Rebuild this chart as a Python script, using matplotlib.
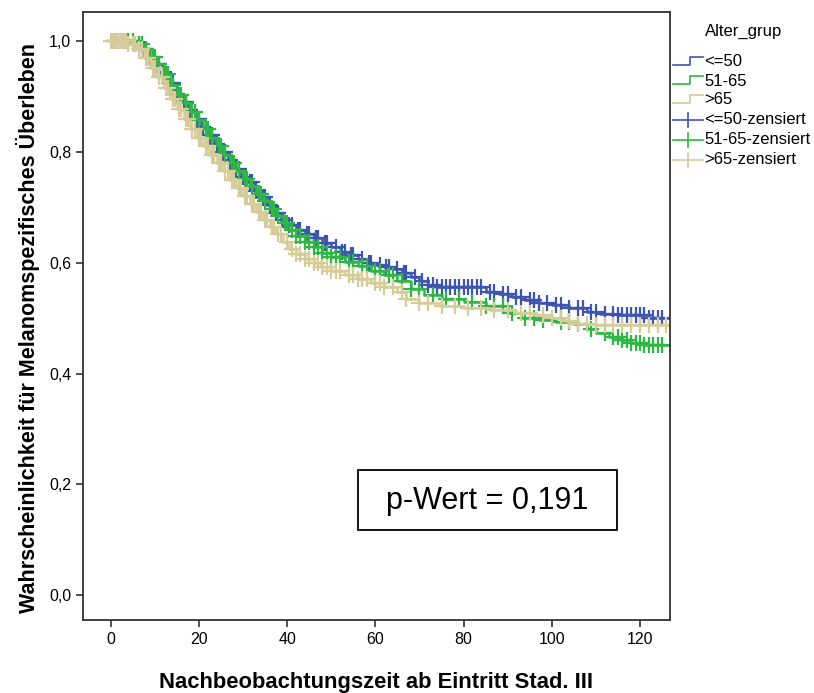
import numpy as np
import matplotlib
matplotlib.use("Agg")
import matplotlib.pyplot as plt
from matplotlib.lines import Line2D
from matplotlib.patches import Rectangle
from matplotlib.transforms import Affine2D

# Kaplan-Meier Stufen (Zeit, Überlebenswahrscheinlichkeit)
t_le50 = [0, 5, 7, 8.5, 10, 11.5, 13, 14.5, 16, 17.5, 19, 20.5, 22, 23.5, 25, 26.5, 28, 29.5, 31, 32.5,
          34, 35.5, 37, 38.5, 40, 42, 44, 46, 48, 50, 52, 54, 56, 58, 60, 62, 64, 66, 68, 70, 72, 74,
          85, 88, 91, 94, 97, 100, 104, 108, 111, 115, 122]
s_le50 = [1.0, 0.995, 0.985, 0.972, 0.958, 0.945, 0.925, 0.905, 0.89, 0.875, 0.86, 0.845, 0.83, 0.815,
          0.80, 0.785, 0.77, 0.755, 0.745, 0.73, 0.718, 0.705, 0.69, 0.678, 0.668, 0.66, 0.652, 0.645,
          0.636, 0.628, 0.62, 0.614, 0.607, 0.60, 0.596, 0.592, 0.588, 0.582, 0.575, 0.567, 0.56, 0.556,
          0.548, 0.543, 0.538, 0.533, 0.528, 0.524, 0.519, 0.512, 0.508, 0.505, 0.50]

t_5165 = [0, 6, 7.5, 9, 10.5, 12, 13.5, 15, 16.5, 18, 19.5, 21, 22.5, 24, 25.5, 27, 28.5, 30, 31.5, 33,
          34.5, 36, 37.5, 39, 40.5, 42, 44, 46, 48, 50, 53, 56, 59, 62, 65, 68, 71, 75, 80, 85, 90, 93,
          97, 101, 105, 108, 110, 113, 116, 118, 121]
s_5165 = [1.0, 0.995, 0.985, 0.972, 0.958, 0.94, 0.92, 0.903, 0.888, 0.872, 0.857, 0.842, 0.826, 0.81,
          0.795, 0.78, 0.766, 0.752, 0.738, 0.725, 0.712, 0.698, 0.685, 0.672, 0.66, 0.648, 0.638, 0.628,
          0.618, 0.61, 0.602, 0.594, 0.586, 0.578, 0.568, 0.553, 0.542, 0.535, 0.53, 0.522, 0.51, 0.50,
          0.496, 0.493, 0.489, 0.48, 0.473, 0.466, 0.46, 0.455, 0.452]

t_gt65 = [0, 4, 6, 7.5, 9, 10.5, 12, 13.5, 15, 16.5, 18, 19.5, 21, 22.5, 24, 25.5, 27, 28.5, 30, 31.5,
          33, 34.5, 36, 37.5, 39, 40.5, 42, 44, 46, 48, 50, 53, 56, 59, 62, 65, 67, 70, 75, 80, 86, 92,
          96, 100, 103, 106, 110]
s_gt65 = [1.0, 0.995, 0.985, 0.97, 0.952, 0.935, 0.915, 0.895, 0.878, 0.86, 0.842, 0.825, 0.81, 0.795,
          0.78, 0.765, 0.75, 0.735, 0.72, 0.706, 0.692, 0.678, 0.665, 0.652, 0.638, 0.625, 0.615, 0.607,
          0.60, 0.593, 0.585, 0.578, 0.57, 0.563, 0.556, 0.548, 0.535, 0.527, 0.522, 0.518, 0.514, 0.51,
          0.505, 0.50, 0.495, 0.49, 0.487]

# zensierte Fälle (Zeitpunkte)
c_le50 = [1, 2, 3, 4, 5.5, 6.5, 7.5, 8, 9, 10.5, 11, 12, 13.5, 14, 15, 16.5, 17, 18, 19.5, 20, 21, 22.5,
          23, 24, 25.5, 26, 27, 28.5, 29, 30, 31.5, 32, 33, 34.5, 35, 36, 37.5, 38, 39, 40.5, 41, 42.5,
          43, 44.5, 45, 46.5, 47, 48.5, 49, 51, 52.5, 53, 54.5, 55, 57, 58.5, 59, 61, 62.5, 63, 65, 66.5,
          67, 69, 70.5, 72, 73, 74, 75, 76, 77, 78, 79, 80, 81, 82, 83, 84, 86, 87, 89, 90, 92, 93, 95, 96,
          97, 99, 101, 102, 104, 106, 107, 109, 110, 112, 114, 115, 116, 117, 118, 119, 120, 121, 122,
          123, 124, 125]
c_5165 = [1, 2, 3, 4, 5, 6.5, 7, 8, 9.5, 10, 11, 12.5, 13, 14, 15.5, 16, 17, 18.5, 19, 20, 21.5, 22, 23,
          24.5, 25, 26, 27.5, 28, 29, 30.5, 31, 32, 33.5, 34, 35, 36.5, 37, 38, 39.5, 40, 41, 42, 43, 44,
          45, 46, 47, 48, 49, 50, 51, 52, 54, 55, 57, 58, 60, 61, 63, 64, 66, 68, 70, 73, 76, 79, 82, 85,
          87, 89, 91, 94, 96, 98, 102, 104, 106, 109, 112, 114, 115, 116, 117, 118, 119, 120, 121, 122,
          123, 124, 125]
c_gt65 = [0, 0.5, 1, 1.5, 2, 2.5, 3, 3.5, 4, 5, 5.5, 6.5, 7, 8, 8.5, 9.5, 10, 11, 11.5, 12.5, 13, 14,
          14.5, 15.5, 16, 17, 17.5, 18.5, 19, 20, 20.5, 21.5, 22, 23, 23.5, 24.5, 25, 26, 26.5, 27.5, 28,
          29, 29.5, 30.5, 31, 32, 32.5, 33.5, 34, 35, 35.5, 36.5, 37, 38, 38.5, 40, 41, 42, 43, 44, 45, 46,
          47, 48, 49, 50, 51, 52, 54, 55, 56, 57, 58, 60, 61, 62, 64, 66, 67, 70, 72, 75, 78, 81, 84, 87,
          90, 93, 95, 98, 100, 102, 104, 106, 108, 110, 112, 114, 116, 118, 120, 122, 124, 126]

t_end = 126.5
groups = ["<=50", "51-65", ">65"]
colors = ["#3E55B0", "#2DB845", "#D5CC98"]

plt.rcParams["font.family"] = ["Liberation Sans Narrow", "Liberation Sans", "DejaVu Sans"]

fig = plt.figure(figsize=(8.14, 6.93), dpi=100)
ax = fig.add_axes([0.102, 0.105, 0.721, 0.878])

data = [(t_le50, s_le50, c_le50), (t_5165, s_5165, c_5165), (t_gt65, s_gt65, c_gt65)]
for (t, s, c), col in zip(data, colors):
    tt = np.array(t + [t_end])
    ss = np.array(s + [s[-1]])
    ax.step(tt, ss, where="post", color=col, lw=1.8)
    idx = np.searchsorted(np.array(t), np.array(c), side="right") - 1
    ax.plot(c, np.array(s)[idx], ls="none", marker="+", ms=11, mew=1.6, color=col)

ax.set_xlim(-6.3, 126.8)
ax.set_ylim(-0.045, 1.053)
ax.set_xticks([0, 20, 40, 60, 80, 100, 120])
ax.set_yticks([0.0, 0.2, 0.4, 0.6, 0.8, 1.0])
ax.set_yticklabels(["0,0", "0,2", "0,4", "0,6", "0,8", "1,0"])
ax.tick_params(labelsize=11.5, length=5, width=1.2, color="#333333")
for sp in ax.spines.values():
    sp.set_color("#333333")
    sp.set_linewidth(1.3)
ax.set_xlabel("Nachbeobachtungszeit ab Eintritt Stad. III", fontsize=15.8, fontweight="bold", labelpad=18)
ax.set_ylabel("Wahrscheinlichkeit für Melanomspezifisches Überleben", fontsize=15.5, fontweight="bold")
ax.yaxis.set_label_coords(-0.073, 0.48)

# Pixel-Koordinaten (y nach unten) für Legende und Textfeld
px = Affine2D().scale(1 / 814, -1 / 693).translate(0, 1) + fig.transFigure

fig.text(744, 31, "Alter_grup", transform=px, fontsize=12, ha="center", va="center",
         family=["Liberation Sans", "DejaVu Sans"])
rows = [62, 81, 100, 120, 140, 160]
labels = groups + [g + "-zensiert" for g in groups]
for i, (y, lab) in enumerate(zip(rows, labels)):
    col = colors[i % 3]
    if i < 3:
        fig.add_artist(Line2D([673, 690, 690, 703], [y + 3, y + 3, y - 5, y - 5], transform=px,
                              color=col, lw=1.2))
    else:
        fig.add_artist(Line2D([673, 703], [y, y], transform=px, color=col, lw=1.2))
        fig.add_artist(Line2D([688, 688], [y - 7, y + 7], transform=px, color=col, lw=1.2))
    fig.text(704, y, lab, transform=px, fontsize=12, ha="left", va="center",
             family=["Liberation Sans", "DejaVu Sans"])

fig.add_artist(Rectangle((358, 530), 259, -60, transform=px, fill=False, ec="black", lw=1.3))
fig.text(487, 501, "p-Wert = 0,191", transform=px, fontsize=22, ha="center", va="center",
         family=["Liberation Sans", "DejaVu Sans"])

fig.savefig("out.png", dpi=100)
